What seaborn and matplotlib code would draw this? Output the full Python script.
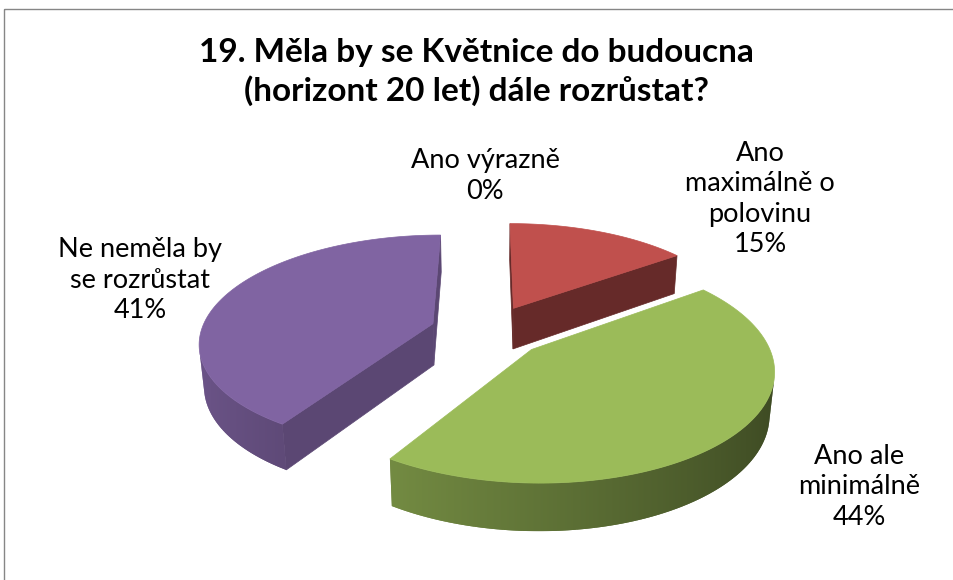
import matplotlib
matplotlib.use("Agg")
import matplotlib.pyplot as plt
import numpy as np
import seaborn as sns
from matplotlib.colors import to_rgb
from matplotlib.patches import Polygon, Rectangle


# ── data ─────────────────────────────────────────────────────────────────────
TITLE = "19. Měla by se Květnice do budoucna\n(horizont 20 let) dále rozrůstat?"
categories = ["Ano výrazně", "Ano maximálně o polovinu", "Ano ale minimálně", "Ne neměla by se rozrůstat"]
shares = [0, 15, 44, 41]
# category names broken into lines the way the labels show them
label_lines = [["Ano výrazně"], ["Ano", "maximálně o", "polovinu"], ["Ano ale", "minimálně"], ["Ne neměla by", "se rozrůstat"]]

# ── style / layout ───────────────────────────────────────────────────────────
COLORS = ["#4F81BD", "#C0504D", "#9BBB59", "#8064A2"]
CUT_SHADE = [0.55, 0.53, 0.6, 0.71]
LABEL_POS = [(485, 176), (760, 199), (859, 487), (140, 280)]
W, H = 954, 580

# perspective camera for the 3-D pie (pie radius = 1)
ELEV = np.radians(27)
DIST = 5.5
FOCAL = 1275
CX, CY = 488, 331
EXPLODE = 0.25
THICK = 0.205
SIN, COS = np.sin(ELEV), np.cos(ELEV)
CAM = np.array([0.0, DIST * SIN, DIST * COS])

_z = [1.0]


def next_z():
    _z[0] += 1
    return _z[0]


def project(pts):
    pts = np.atleast_2d(pts)
    x, y, z = pts[:, 0], pts[:, 1], pts[:, 2]
    depth = DIST - y * SIN - z * COS
    return np.column_stack([CX + FOCAL * x / depth, CY - FOCAL * (y * COS - z * SIN) / depth])


def shade(color, f):
    return tuple(np.clip(np.array(to_rgb(color)) * f, 0, 1))


def facing(normal, point):
    return np.dot(normal, CAM - point) > 0


def draw_face(ax, pts3d, color, lw=0.5):
    ax.add_patch(Polygon(project(pts3d), closed=True, facecolor=color,
                         edgecolor=color if lw else "none", lw=lw, zorder=next_z()))


def rim_shade(theta):
    # lighter on the left of the pie, darker on the right
    return 0.62 - 0.23 * np.sin(theta)


def draw_rim(ax, top, bottom, thetas, color):
    # soft antialiased base, then a smooth gradient clipped to the outline
    for k in range(len(top) - 1):
        draw_face(ax, [top[k], top[k + 1], bottom[k + 1], bottom[k]],
                  shade(color, rim_shade(thetas[k])), lw=0)
    outline = project(np.vstack([top, bottom[::-1]]))
    z = next_z()
    poly = Polygon(outline, closed=True, facecolor="none", edgecolor="none", zorder=z)
    ax.add_patch(poly)
    xs = project(top)[:, 0]
    order = np.argsort(xs)
    x0, x1 = outline[:, 0].min(), outline[:, 0].max()
    y0, y1 = outline[:, 1].min(), outline[:, 1].max()
    cols = np.linspace(x0, x1, 300)
    f = np.interp(cols, xs[order], rim_shade(thetas)[order])
    img = np.clip(f[:, None] * np.array(to_rgb(color))[None, :], 0, 1)[None, :, :]
    im = ax.imshow(img, extent=(x0, x1, y1, y0), aspect="auto",
                   interpolation="bilinear", zorder=z)
    im.set_clip_path(poly)


def draw_slice(ax, a0, a1, color, cut_shade):
    mid = np.radians((a0 + a1) / 2)
    apex = EXPLODE * np.array([np.sin(mid), 0.0, -np.cos(mid)])
    down = np.array([0.0, -THICK, 0.0])
    th = np.radians(np.linspace(a0, a1, max(int(a1 - a0), 2) + 1))
    rim = apex + np.column_stack([np.sin(th), np.zeros_like(th), -np.cos(th)])

    # cut faces
    for ang, sign, edge in [(a0, -1, rim[0]), (a1, 1, rim[-1])]:
        r = np.radians(ang)
        n = sign * np.array([np.cos(r), 0.0, np.sin(r)])
        if facing(n, (apex + edge) / 2):
            draw_face(ax, [apex, edge, edge + down, apex + down], shade(color, cut_shade))

    # outer rim: keep the points whose outward normal faces the camera
    tm = (th[:-1] + th[1:]) / 2
    vis = np.array([facing(np.array([np.sin(t), 0.0, -np.cos(t)]), apex + np.array([np.sin(t), 0, -np.cos(t)]))
                    for t in tm])
    if vis.any():
        idx = np.where(vis)[0]
        sel = np.arange(idx.min(), idx.max() + 2)
        draw_rim(ax, rim[sel], rim[sel] + down, th[sel], color)

    draw_face(ax, np.vstack([apex, rim]), color)


sns.set_theme(style="white")
plt.rcParams["font.family"] = ["Lato", "DejaVu Sans"]

fig = plt.figure(figsize=(W / 100, H / 100), dpi=100)
ax = fig.add_axes([0, 0, 1, 1])
ax.axis("off")

edges = np.cumsum([0] + shares) / sum(shares) * 360
slices = []
for i in range(len(shares)):
    a0, a1 = edges[i], edges[i + 1]
    if a1 - a0 <= 0:
        continue
    mid = np.radians((a0 + a1) / 2)
    centre = (EXPLODE + 0.5) * np.array([np.sin(mid), 0.0, -np.cos(mid)])
    slices.append((np.linalg.norm(CAM - centre), i, a0, a1))

# painter's order: farthest slice first
for _, i, a0, a1 in sorted(slices, reverse=True):
    draw_slice(ax, a0, a1, COLORS[i], CUT_SHADE[i])

for lines, share, (lx, ly) in zip(label_lines, shares, LABEL_POS):
    ax.text(lx, ly, "\n".join(lines + [f"{share}%"]), ha="center", va="center",
            fontsize=19.5, color="black", linespacing=1.28, zorder=next_z())

ax.text(476, 72, TITLE, ha="center", va="center", fontsize=24, fontweight="bold",
        color="black", linespacing=1.33, zorder=next_z())

ax.add_patch(Rectangle((4.5, 8.5), W + 10, H + 10, fill=False, edgecolor="#868686",
                       lw=1.0, zorder=next_z()))

ax.set_xlim(0, W)
ax.set_ylim(H, 0)

fig.savefig("out.png", dpi=100)
